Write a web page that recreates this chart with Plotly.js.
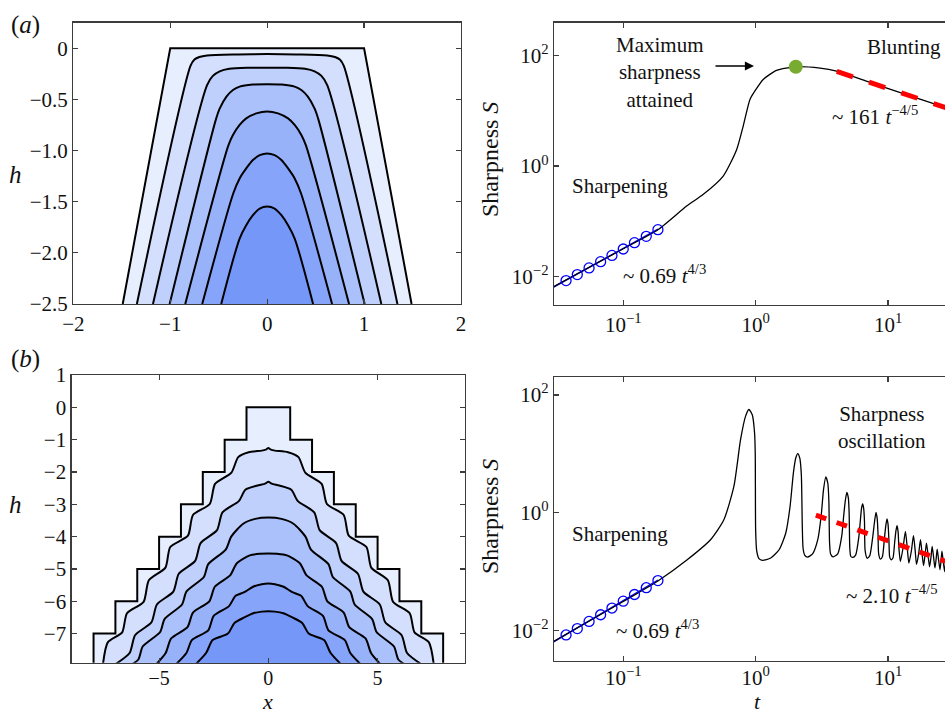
<!DOCTYPE html>
<html>
<head>
<meta charset="utf-8">
<script src="https://cdn.plot.ly/plotly-3.0.1.min.js"></script>
<style>html,body{margin:0;padding:0;overflow:hidden;background:#fff}</style>
</head>
<body>
<div id="chart" style="width:945px;height:715px"></div>
<script>
const FONT = '"Liberation Serif", "Times New Roman", serif';

// ---------- (a) top-left: eroding profiles (x, h) ----------
const a1x = [-1.49, -1.0, 1.0, 1.49];
const a1y = [-2.5, 0, 0, -2.5];
const a2x = [-1.344, -0.79, -0.75, -0.70, -0.62, -0.3, 0, 0.3, 0.62, 0.70, 0.75, 0.79, 1.344];
const a2y = [-2.5, -0.17, -0.11, -0.085, -0.07, -0.06, -0.057, -0.06, -0.07, -0.085, -0.11, -0.17, -2.5];
const a3x = [-1.178, -0.62, -0.56, -0.49, -0.39, -0.2, 0, 0.2, 0.39, 0.49, 0.56, 0.62, 1.178];
const a3y = [-2.5, -0.36, -0.27, -0.225, -0.2, -0.19, -0.19, -0.19, -0.2, -0.225, -0.27, -0.36, -2.5];
const a4x = [-1.006, -0.53, -0.49, -0.42, -0.353, -0.284, -0.15, 0, 0.15, 0.284, 0.353, 0.42, 0.49, 0.53, 1.006];
const a4y = [-2.5, -0.70, -0.59, -0.473, -0.408, -0.375, -0.355, -0.352, -0.355, -0.375, -0.408, -0.473, -0.59, -0.70, -2.5];
const a5x = [-0.845, -0.40, -0.353, -0.284, -0.216, -0.112, 0, 0.112, 0.216, 0.284, 0.353, 0.40, 0.845];
const a5y = [-2.5, -0.95, -0.848, -0.75, -0.685, -0.636, -0.617, -0.636, -0.685, -0.75, -0.848, -0.95, -2.5];
const a6x = [-0.67, -0.35, -0.284, -0.216, -0.147, -0.077, 0, 0.077, 0.147, 0.216, 0.284, 0.35, 0.67];
const a6y = [-2.5, -1.42, -1.273, -1.175, -1.093, -1.045, -1.028, -1.045, -1.093, -1.175, -1.273, -1.42, -2.5];
const a7x = [-0.474, -0.284, -0.216, -0.147, -0.077, 0, 0.077, 0.147, 0.216, 0.284, 0.474];
const a7y = [-2.5, -1.86, -1.73, -1.632, -1.567, -1.548, -1.567, -1.632, -1.73, -1.86, -2.5];

// ---------- (b) bottom-left: stepped profiles ----------
const b1x = [-8,-8,-7,-7,-6,-6,-5,-5,-4,-4,-3,-3,-2,-2,-1,-1,1,1,2,2,3,3,4,4,5,5,6,6,7,7,8,8];
const b1y = [-8,-7,-7,-6,-6,-5,-5,-4,-4,-3,-3,-2,-2,-1,-1,0,0,-1,-1,-2,-2,-3,-3,-4,-4,-5,-5,-6,-6,-7,-7,-8];
const b2x = [-7.58,-7.35,-6.69,-6.47,-5.71,-5.47,-4.71,-4.49,-3.68,-3.45,-2.68,-2.44,-1.69,-1.38,-0.9,-0.3,-0.12,0,0.12,0.3,0.9,1.38,1.69,2.44,2.68,3.45,3.68,4.49,4.71,5.47,5.71,6.47,6.69,7.35,7.58];
const b2y = [-8.0,-7.27,-6.96,-6.37,-6.02,-5.35,-4.96,-4.32,-3.97,-3.33,-2.99,-2.37,-2.02,-1.54,-1.39,-1.34,-1.31,-1.26,-1.31,-1.34,-1.39,-1.54,-2.02,-2.37,-2.99,-3.33,-3.97,-4.32,-4.96,-5.35,-6.02,-6.37,-6.96,-7.27,-8.0];
const b3x = [-7.05,-6.35,-6.1,-5.35,-5.1,-4.35,-4.1,-3.35,-3.1,-2.35,-2.1,-1.35,-1.05,-0.5,-0.15,0,0.15,0.5,1.05,1.35,2.1,2.35,3.1,3.35,4.1,4.35,5.1,5.35,6.1,6.35,7.05];
const b3y = [-7.97,-7.6,-7.05,-6.65,-6.1,-5.7,-5.15,-4.75,-4.2,-3.8,-3.25,-2.9,-2.55,-2.42,-2.36,-2.3,-2.36,-2.42,-2.55,-2.9,-3.25,-3.8,-4.2,-4.75,-5.15,-5.7,-6.1,-6.65,-7.05,-7.6,-7.97];
const b4x = [-6.35,-5.95,-5.75,-4.95,-4.75,-3.95,-3.75,-2.95,-2.75,-1.95,-1.7,-1.15,-0.6,0,0.6,1.15,1.7,1.95,2.75,2.95,3.75,3.95,4.75,4.95,5.75,5.95,6.35];
const b4y = [-8.0,-7.8,-7.4,-6.95,-6.55,-6.1,-5.7,-5.25,-4.85,-4.4,-4.0,-3.6,-3.45,-3.41,-3.45,-3.6,-4.0,-4.4,-4.85,-5.25,-5.7,-6.1,-6.55,-6.95,-7.4,-7.8,-8.0];
const b5x = [-5.2,-4.7,-4.45,-3.7,-3.45,-2.7,-2.45,-1.75,-1.45,-0.85,-0.4,0,0.4,0.85,1.45,1.75,2.45,2.7,3.45,3.7,4.45,4.7,5.2];
const b5y = [-8.0,-7.6,-7.15,-6.8,-6.35,-6.0,-5.55,-5.2,-4.83,-4.58,-4.53,-4.52,-4.53,-4.58,-4.83,-5.2,-5.55,-6.0,-6.35,-6.8,-7.15,-7.6,-8.0];
const b6x = [-4.3,-3.75,-3.5,-2.75,-2.5,-1.8,-1.5,-1.1,-0.7,-0.3,0,0.3,0.7,1.1,1.5,1.8,2.5,2.75,3.5,3.75,4.3];
const b6y = [-8.0,-7.6,-7.2,-6.9,-6.45,-6.15,-5.83,-5.72,-5.55,-5.47,-5.45,-5.47,-5.55,-5.72,-5.83,-6.15,-6.45,-6.9,-7.2,-7.6,-8.0];
const b7x = [-3.4,-2.85,-2.55,-1.85,-1.55,-1.1,-0.69,-0.3,0,0.3,0.69,1.1,1.55,1.85,2.55,2.85,3.4];
const b7y = [-8.0,-7.6,-7.2,-7.0,-6.67,-6.5,-6.37,-6.32,-6.31,-6.32,-6.37,-6.5,-6.67,-7.0,-7.2,-7.6,-8.0];

const fillColors = ['#e7eefe', '#d3dffd', '#bfd0fc', '#abc1fb', '#98b2fa', '#86a4f9', '#7597f8'];

// ---------- sharpness S(t), read as log10 values ----------
const topLogT = [-1.55,-1.0,-0.738,-0.521,-0.395,-0.245,-0.143,-0.094,-0.043,0.002,0.057,0.158,0.304,0.487,0.611,0.864,1.115,1.43,1.55];
const topLogS = [-2.22,-1.50,-1.154,-0.725,-0.513,-0.181,0.302,0.725,1.208,1.389,1.571,1.734,1.80,1.775,1.72,1.516,1.315,1.063,0.967];

const botLogT = [-1.55,-1.0,-0.738,-0.517,-0.341,-0.24,-0.164,-0.114,-0.076,-0.051,-0.025,-0.008,-0.003,0.0,0.008,0.025,0.051,
  0.114,0.177,0.227,0.26,0.285,0.303,0.318,0.333,0.345,0.352,0.358,0.37,0.392,
  0.43,0.47,0.495,0.513,0.530,0.545,0.553,0.558,0.566,0.585,
  0.62,0.65,0.665,0.678,0.689,0.700,0.706,0.711,0.718,0.732,
  0.755,0.78,0.792,0.80,0.808,0.816,0.822,0.827,0.843,
  0.862,0.885,0.898,0.909,0.918,0.924,0.929,0.942,
  0.957,0.972,0.983,0.992,1.0,1.007,1.012,1.023,
  1.037,1.05,1.06,1.068,1.076,1.082,1.093,
  1.113,1.131,1.145,1.157,
  1.176,1.192,1.205,1.215,
  1.231,1.245,1.257,1.268,
  1.279,1.29,1.302,1.313,
  1.324,1.333,1.344,1.354,
  1.363,1.371,1.381,1.392,
  1.400,1.407,1.416,1.427,
  1.434,1.44,1.448,1.455];
const botLogS = [-2.22,-1.51,-1.16,-0.80,-0.46,-0.12,0.45,1.24,1.64,1.753,1.66,1.35,1.0,-0.3,-0.65,-0.78,-0.81,
  -0.77,-0.63,-0.35,0.107,0.676,0.93,1.004,0.93,0.65,-0.2,-0.6,-0.72,-0.754,
  -0.70,-0.45,-0.05,0.4,0.607,0.5,0.2,-0.5,-0.70,-0.75,
  -0.70,-0.4,-0.05,0.22,0.346,0.25,0.0,-0.6,-0.74,-0.76,
  -0.72,-0.4,-0.1,0.08,0.148,0.07,-0.15,-0.65,-0.775,
  -0.73,-0.4,-0.15,0.005,-0.1,-0.35,-0.7,-0.79,
  -0.75,-0.45,-0.22,-0.107,-0.2,-0.5,-0.75,-0.8,
  -0.77,-0.5,-0.3,-0.221,-0.33,-0.6,-0.83,
  -0.6,-0.318,-0.6,-0.855,
  -0.65,-0.391,-0.65,-0.88,
  -0.7,-0.46,-0.7,-0.9,
  -0.72,-0.516,-0.72,-0.92,
  -0.76,-0.573,-0.76,-0.94,
  -0.79,-0.618,-0.79,-0.97,
  -0.82,-0.652,-0.82,-1.0,
  -0.85,-0.69,-0.85,-1.02];

const circT = [0.0370, 0.0450, 0.0552, 0.0675, 0.0822, 0.100, 0.1216, 0.1493, 0.1828];
const circS = [0.00836, 0.01074, 0.01419, 0.01845, 0.02399, 0.03133, 0.04074, 0.05309, 0.07015];
const fitEarlyT = [0.028, 0.183];
const fitEarlyS = [0.00587, 0.0718];
const maxT = [2.01], maxS = [63.1];
const fitTopT = [4.1, 32];
const fitTopS = [52.1, 10.07];
const fitBotT = [2.85, 32];
const fitBotS = [0.909, 0.131];

const pow10 = a => a.map(v => Math.pow(10, v));

// ---------- traces ----------
const traces = [];
function profile(xs, ys, i, xa, ya, shape, sm) {
  traces.push({x: xs, y: ys, xaxis: xa, yaxis: ya, type: 'scatter', mode: 'lines',
    fill: 'toself', fillcolor: fillColors[i],
    line: {color: '#000', width: 2, shape: shape, smoothing: sm}, hoverinfo: 'skip'});
}
[[a1x,a1y],[a2x,a2y],[a3x,a3y],[a4x,a4y],[a5x,a5y],[a6x,a6y],[a7x,a7y]].forEach((p, i) =>
  profile(p[0], p[1], i, 'x', 'y', i === 0 ? 'linear' : 'spline', 0.8));
[[b1x,b1y],[b2x,b2y],[b3x,b3y],[b4x,b4y],[b5x,b5y],[b6x,b6y],[b7x,b7y]].forEach((p, i) =>
  profile(p[0], p[1], i, 'x3', 'y3', i === 0 ? 'linear' : 'spline', 0.65));

function sharp(xa, ya, lt, ls, dashLen, fitT, fitS, withMax) {
  traces.push({x: fitEarlyT, y: fitEarlyS, xaxis: xa, yaxis: ya, mode: 'lines',
    line: {color: '#0000ff', width: 1.4}});
  traces.push({x: pow10(lt), y: pow10(ls), xaxis: xa, yaxis: ya, mode: 'lines',
    line: {color: '#000', width: 1.3, shape: 'spline', smoothing: 0.6}});
  traces.push({x: fitT, y: fitS, xaxis: xa, yaxis: ya, mode: 'lines',
    line: {color: '#ff0000', width: 5, dash: dashLen + 'px,' + dashLen + 'px'}});
  traces.push({x: circT, y: circS, xaxis: xa, yaxis: ya, mode: 'markers',
    marker: {symbol: 'circle-open', size: 10, color: '#0000ff', line: {width: 1.3, color: '#0000ff'}}});
  if (withMax) traces.push({x: maxT, y: maxS, xaxis: xa, yaxis: ya, mode: 'markers',
    marker: {symbol: 'circle', size: 14, color: '#77ac30'}});
}
sharp('x2', 'y2', topLogT, topLogS, 17, fitTopT, fitTopS, true);
sharp('x4', 'y4', botLogT, botLogS, 11, fitBotT, fitBotS, false);

// ---------- layout ----------
const W = 945, H = 715;
const px = v => v / W, py = v => 1 - v / H;
const axCol = '#3c3c3c';
function ax(extra) {
  return Object.assign({showline: true, linecolor: axCol, linewidth: 1.3, mirror: 'ticks',
    ticks: 'inside', ticklen: 5, tickwidth: 1.2, tickcolor: axCol,
    showgrid: false, zeroline: false, fixedrange: true,
    tickfont: {family: FONT, size: 21, color: '#111'}}, extra);
}
const logXt = {tickvals: [0.1, 1, 10], ticktext: ['10<sup>−1</sup>', '10<sup>0</sup>', '10<sup>1</sup>']};
const logYt = {tickvals: [0.01, 1, 100], ticktext: ['10<sup>−2</sup>', '10<sup>0</sup>', '10<sup>2</sup>']};

const layout = {
  width: W, height: H, margin: {l: 0, r: 0, t: 0, b: 0},
  paper_bgcolor: '#fff', plot_bgcolor: '#fff', showlegend: false,
  font: {family: FONT, color: '#111'},
  xaxis: ax({domain: [px(73.3), px(461)], range: [-2, 2], tickvals: [-2, -1, 0, 1, 2], anchor: 'y'}),
  yaxis: ax({domain: [py(304), py(22.7)], range: [-2.5, 0.25], anchor: 'x',
    tickvals: [0, -0.5, -1, -1.5, -2, -2.5], ticktext: ['0', '−0.5', '−1.0', '−1.5', '−2.0', '−2.5']}),
  xaxis2: ax(Object.assign({domain: [px(554), 1], type: 'log', range: [Math.log10(0.03), 1.43], anchor: 'y2'}, logXt)),
  yaxis2: ax(Object.assign({domain: [py(305), py(22.7)], type: 'log', range: [-2.52, 2.60], anchor: 'x2', mirror: false}, logYt)),
  xaxis3: ax({domain: [px(71.7), px(465)], range: [-9, 9], tickvals: [-5, 0, 5], anchor: 'y3',
    ticklabelstandoff: -3, tickfont: {family: FONT, size: 20, color: '#111'}}),
  yaxis3: ax({domain: [py(662.7), py(375)], range: [-7.9, 1], tickvals: [1, 0, -1, -2, -3, -4, -5, -6, -7], anchor: 'x3'}),
  xaxis4: ax(Object.assign({domain: [px(554), 1], type: 'log', range: [Math.log10(0.03), 1.43], anchor: 'y4', ticklabelstandoff: -3}, logXt)),
  yaxis4: ax(Object.assign({domain: [py(661), py(377.3)], type: 'log', range: [-2.52, 2.30], anchor: 'x4', mirror: false}, logYt)),
  annotations: []
};

function txt(text, x, y, size, extra) {
  layout.annotations.push(Object.assign({text: text, xref: 'paper', yref: 'paper', x: px(x), y: py(y),
    xanchor: 'center', yanchor: 'middle', showarrow: false,
    font: {family: FONT, size: size, color: '#111'}}, extra || {}));
}
txt('(<i>a</i>)', 25, 25, 25);
txt('(<i>b</i>)', 25, 359, 25);
txt('<i>h</i>', 15, 174, 25);
txt('<i>h</i>', 15, 505, 25);
txt('<i>x</i>', 267, 715, 22, {borderpad: 0, yanchor: 'bottom'});
txt('<i>t</i>', 757, 715, 22, {borderpad: 0, yanchor: 'bottom'});
txt('Sharpness <i>S</i>', 490, 160, 24, {textangle: -90});
txt('Sharpness <i>S</i>', 490, 517, 24, {textangle: -90});
txt('Maximum<br>sharpness<br>attained', 660, 73, 21);
txt('Blunting', 904, 47, 21);
txt('Sharpening', 620, 186, 21);
txt('Sharpening', 620, 534, 21);
txt('~ 0.69 <i>t</i><sup>4/3</sup>', 664, 274, 21);
txt('~ 0.69 <i>t</i><sup>4/3</sup>', 657, 629, 21);
txt('~ 161 <i>t</i><sup>−4/5</sup>', 875, 116, 21);
txt('~ 2.10 <i>t</i><sup>−4/5</sup>', 892, 594, 21);
txt('Sharpness<br>oscillation', 882, 427, 21);
layout.annotations.push({text: '', xref: 'paper', yref: 'paper', x: px(754), y: py(66),
  axref: 'pixel', ayref: 'pixel', ax: -40, ay: 0, showarrow: true,
  arrowhead: 2, arrowsize: 1.3, arrowwidth: 1.4, arrowcolor: '#000'});

Plotly.newPlot('chart', traces, layout, {displayModeBar: false, staticPlot: true});
</script>
</body>
</html>
